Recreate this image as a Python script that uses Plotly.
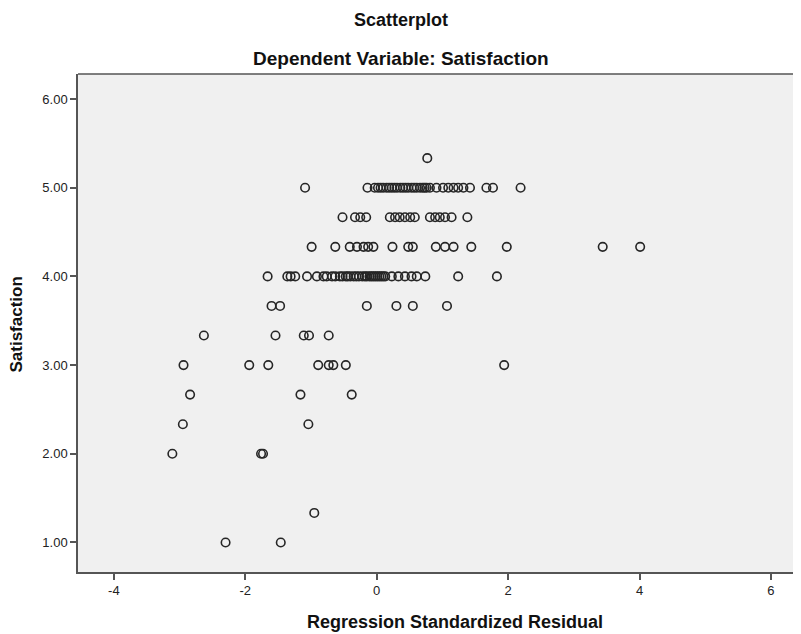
import plotly.graph_objects as go

# Regression standardized residuals, grouped by Satisfaction level
resid_533 = [0.77]
resid_500 = [-1.09, -0.14, -0.03, 0.02, 0.06, 0.10, 0.15, 0.19, 0.23, 0.27, 0.31, 0.36,
             0.40, 0.44, 0.48, 0.53, 0.57, 0.61, 0.66, 0.70, 0.73, 0.76, 0.81, 0.91,
             1.01, 1.09, 1.17, 1.24, 1.32, 1.42, 1.67, 1.77, 2.19]
resid_467 = [-0.52, -0.33, -0.25, -0.16, 0.20, 0.28, 0.35, 0.43, 0.51, 0.58, 0.81,
             0.89, 0.96, 1.04, 1.14, 1.38]
resid_433 = [-0.99, -0.63, -0.41, -0.30, -0.20, -0.13, -0.05, 0.24, 0.48, 0.55, 0.90,
             1.04, 1.17, 1.44, 1.98, 3.44, 4.01]
resid_400 = [-1.66, -1.36, -1.31, -1.24, -1.06, -0.91, -0.81, -0.76, -0.68, -0.63,
             -0.56, -0.52, -0.47, -0.44, -0.40, -0.35, -0.31, -0.27, -0.22, -0.18,
             -0.15, -0.11, -0.08, -0.05, -0.02, 0.01, 0.04, 0.07, 0.10, 0.13, 0.23,
             0.33, 0.43, 0.53, 0.61, 0.74, 1.24, 1.83]
resid_367 = [-1.60, -1.47, -0.15, 0.30, 0.55, 1.07]
resid_333 = [-2.63, -1.54, -1.11, -1.03, -0.73]
resid_300 = [-2.94, -1.94, -1.65, -0.89, -0.73, -0.66, -0.47, 1.94]
resid_267 = [-2.84, -1.16, -0.38]
resid_233 = [-2.95, -1.04]
resid_200 = [-3.11, -1.76, -1.73]
resid_133 = [-0.95]
resid_100 = [-2.30, -1.46]

levels = [5.333, 5.0, 4.667, 4.333, 4.0, 3.667, 3.333, 3.0, 2.667, 2.333, 2.0, 1.333, 1.0]
groups = [resid_533, resid_500, resid_467, resid_433, resid_400, resid_367, resid_333,
          resid_300, resid_267, resid_233, resid_200, resid_133, resid_100]

x_ticks = [-4, -2, 0, 2, 4, 6]
y_ticks = [1, 2, 3, 4, 5, 6]
y_tick_labels = ["1.00", "2.00", "3.00", "4.00", "5.00", "6.00"]

xs, ys = [], []
for lvl, g in zip(levels, groups):
    xs.extend(g)
    ys.extend([lvl] * len(g))

fig = go.Figure()
fig.add_trace(go.Scatter(
    x=xs, y=ys, mode="markers",
    marker=dict(symbol="circle-open", size=8.5, color="#262626",
                line=dict(width=1.6, color="#262626")),
    hoverinfo="x+y", showlegend=False,
))

font_family = "Arial, 'Liberation Sans', sans-serif"
axis_col = "#555555"

fig.update_layout(
    width=793, height=626,
    margin=dict(l=70, r=0, t=66, b=62),
    paper_bgcolor="white",
    plot_bgcolor="#f0f0f0",
    font=dict(family=font_family, size=13, color="#222222"),
    xaxis=dict(range=[-4.546, 6.458], tickvals=x_ticks, ticktext=[str(v) for v in x_ticks],
               showgrid=False, zeroline=False, showline=True, linecolor=axis_col,
               linewidth=1.5, ticks="outside", ticklen=6, tickwidth=1.5,
               tickcolor=axis_col, tickfont=dict(size=13, color="#222222")),
    yaxis=dict(range=[0.667, 6.282], tickvals=y_ticks, ticktext=y_tick_labels,
               showgrid=False, zeroline=False, showline=True, linecolor=axis_col,
               linewidth=1.5, ticks="outside", ticklen=6, tickwidth=1.5,
               tickcolor=axis_col, tickfont=dict(size=13, color="#222222")),
    shapes=[dict(type="line", xref="paper", yref="paper", x0=0, x1=1, y0=1, y1=1,
                 line=dict(color=axis_col, width=1.5))],
    annotations=[
        dict(text="<b>Scatterplot</b>", xref="paper", yref="paper", x=0.447, y=1.108,
             showarrow=False, font=dict(size=18, color="#111111"), xanchor="center", yanchor="middle"),
        dict(text="<b>Dependent Variable: Satisfaction</b>", xref="paper", yref="paper",
             x=0.447, y=1.032, showarrow=False, font=dict(size=19, color="#111111"),
             xanchor="center", yanchor="middle"),
        dict(text="<b>Regression Standardized Residual</b>", xref="paper", yref="paper",
             x=0.521, y=-0.100, showarrow=False, font=dict(size=18, color="#111111"),
             xanchor="center", yanchor="middle"),
        dict(text="<b>Satisfaction</b>", xref="paper", yref="paper", x=-0.085, y=0.496,
             showarrow=False, textangle=-90, font=dict(size=17, color="#111111"),
             xanchor="center", yanchor="middle"),
    ],
)

fig.write_html("out.html")
